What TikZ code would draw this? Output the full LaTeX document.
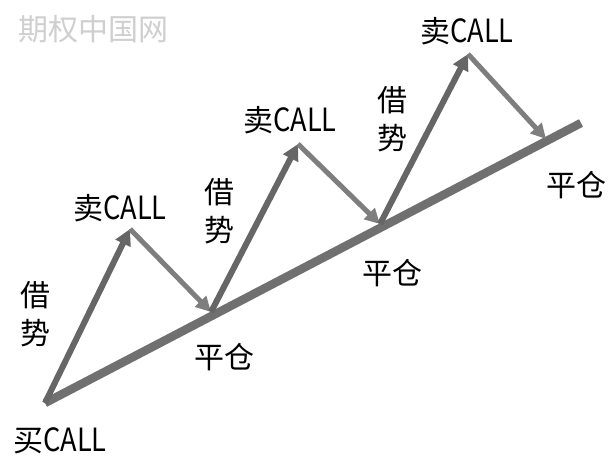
\documentclass[tikz,border=0pt]{standalone}
\usepackage{fontspec}
\setmainfont{Noto Sans CJK SC}
\newfontfamily\narrowlat[FakeStretch=0.85]{Noto Sans CJK SC}
\newcommand{\callword}{{\fontsize{32}{38}\narrowlat CALL}}
\usetikzlibrary{arrows.meta}
\definecolor{mainline}{HTML}{707070}
\definecolor{uparrow}{HTML}{666666}
\definecolor{downarrow}{HTML}{7E7E7E}
\definecolor{wm}{HTML}{CFCFCF}
\tikzset{
  lbl/.style={inner sep=0pt, font=\fontsize{30}{38}\selectfont, text=black, align=center},
  wmtext/.style={inner sep=0pt, font=\fontsize{30}{30}\selectfont, text=wm},
  upar/.style={draw=uparrow, line width=6pt, -{Triangle[length=16pt,width=16pt]}},
  downar/.style={draw=downarrow, line width=5pt, -{Triangle[length=15pt,width=15pt]}},
  base/.style={draw=mainline, line width=8.5pt}
}
\begin{document}
\begin{tikzpicture}[x=1pt,y=-1pt]
\fill[white] (0,0) rectangle (608,461);
\useasboundingbox (0,0) rectangle (608,461);
\node[wmtext] (wmark) at (94,29) {期权中国网};
\coordinate (s) at (45,403);
\coordinate (e) at (581,123);
\coordinate (p1) at (130,229);
\coordinate (t1) at (211,312);
\coordinate (p2) at (298,144);
\coordinate (t2) at (380,224);
\coordinate (p3) at (468,54);
\coordinate (t3) at (546,139);
\draw[base] (s) -- (e);
\draw[upar] (s) -- (p1);
\draw[downar] (p1) -- (t1);
\draw[upar] (t1) -- (p2);
\draw[downar] (p2) -- (t2);
\draw[upar] (t2) -- (p3);
\draw[downar] (p3) -- (t3);
\node[lbl] (buy) at (60,441) {买\callword};
\node[lbl] (lev1) at (35,314) {借\\势};
\node[lbl] (sell1) at (120,208) {卖\callword};
\node[lbl] (close1) at (224,357) {平仓};
\node[lbl] (lev2) at (219,211) {借\\势};
\node[lbl] (sell2) at (290,120) {卖\callword};
\node[lbl] (close2) at (392,273) {平仓};
\node[lbl] (lev3) at (392,119) {借\\势};
\node[lbl] (sell3) at (467,31) {卖\callword};
\node[lbl] (close3) at (576,185) {平仓};
\end{tikzpicture}
\end{document}
